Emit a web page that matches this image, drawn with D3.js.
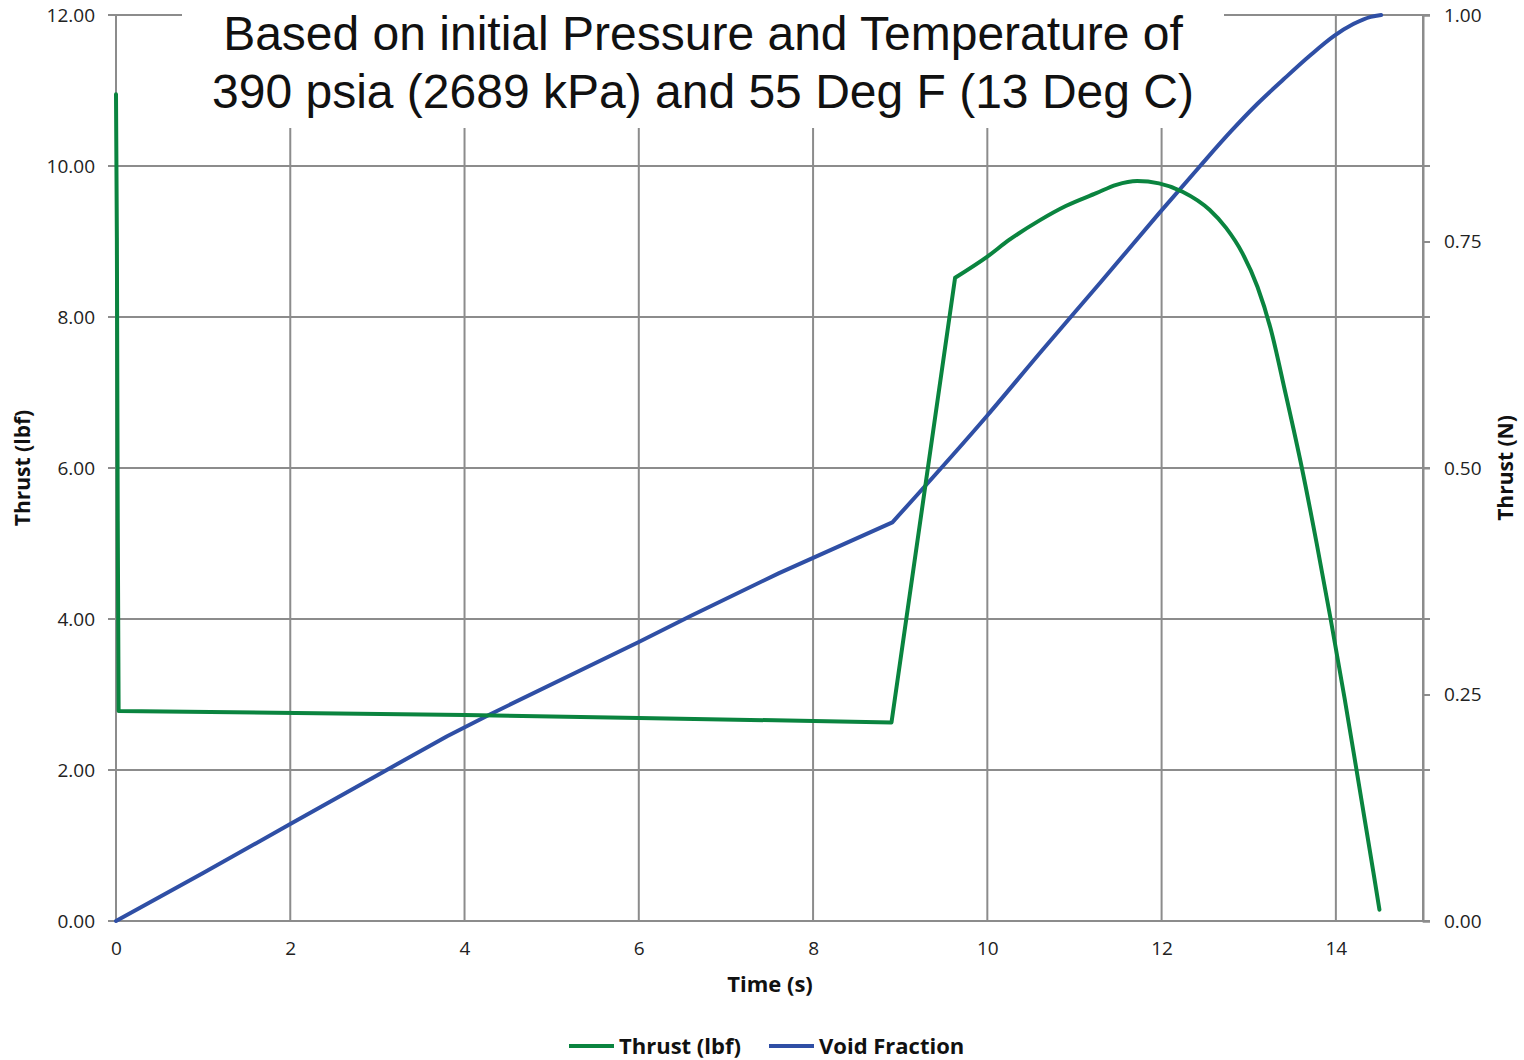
<!DOCTYPE html>
<html>
<head>
<meta charset="utf-8">
<script src="https://cdn.jsdelivr.net/npm/d3@7"></script>
<style>
  body { margin: 0; background: #fff; }
  .tick text { font-family: "Open Sans", sans-serif; font-size: 19px; fill: #222; }
  .axis-title { font-family: "Open Sans", sans-serif; font-size: 21px; font-weight: bold; fill: #111; }
</style>
</head>
<body>
<svg id="chart" width="1524" height="1060"></svg>
<script>
// thrust (lbf) vs time (s)
const thrustTime = [0, 0.01, 0.02, 0.03, 4, 6, 8.9, 9.63, 10, 10.25, 10.6, 10.9, 11.25, 11.48, 11.72, 11.97, 12.24, 12.55, 12.74, 12.93, 13.1, 13.25, 13.42, 13.61, 13.78, 13.94, 14.1, 14.23, 14.33, 14.43, 14.5];
const thrustValue = [10.95, 9.05, 5.3, 2.78, 2.73, 2.69, 2.63, 8.52, 8.8, 9.02, 9.28, 9.47, 9.64, 9.75, 9.8, 9.77, 9.66, 9.42, 9.18, 8.84, 8.4, 7.85, 7.0, 6.0, 5.0, 4.0, 2.95, 2.05, 1.35, 0.65, 0.15];

// void fraction vs time (s)
const voidTime = [0, 1, 2, 3, 3.8, 4.29, 6, 6.6, 7.61, 8.91, 10, 10.63, 11.3, 11.97, 12.43, 12.8, 13.1, 13.4, 13.7, 13.98, 14.2, 14.4, 14.52];
const voidValue = [0, 0.053, 0.107, 0.161, 0.204, 0.228, 0.308, 0.337, 0.384, 0.44, 0.558, 0.63, 0.705, 0.781, 0.832, 0.872, 0.902, 0.929, 0.955, 0.977, 0.99, 0.998, 1.0];

const xTicks = [0, 2, 4, 6, 8, 10, 12, 14];
const leftTicks = [0, 2, 4, 6, 8, 10, 12];
const rightTicks = [0, 0.25, 0.5, 0.75, 1];

const titleLines = ["Based on initial Pressure and Temperature of", "390 psia (2689 kPa) and 55 Deg F (13 Deg C)"];
const seriesNames = ["Thrust (lbf)", "Void Fraction"];
const colors = ["#0a843f", "#2f4fa5"];
const gridColor = "#8c8c8c";

const svg = d3.select("#chart");
const plotLeft = 116, plotRight = 1423, plotTop = 15, plotBottom = 921;

const x = d3.scaleLinear().domain([0, 15]).range([plotLeft, plotRight]);
const yL = d3.scaleLinear().domain([0, 12]).range([plotBottom, plotTop]);
const yR = d3.scaleLinear().domain([0, 1]).range([plotBottom, plotTop]);

// gridlines
const grid = svg.append("g");
grid.selectAll(".hg").data(leftTicks).enter().append("line")
    .attr("x1", plotLeft - 8).attr("x2", plotRight + 7)
    .attr("y1", d => yL(d)).attr("y2", d => yL(d))
    .attr("stroke", gridColor).attr("stroke-width", 2);
grid.selectAll(".vg").data(xTicks.concat([15])).enter().append("line")
    .attr("x1", d => x(d)).attr("x2", d => x(d))
    .attr("y1", plotTop).attr("y2", plotBottom)
    .attr("stroke", gridColor).attr("stroke-width", 2);

// x axis labels
svg.append("g")
    .attr("transform", `translate(0, ${plotBottom})`)
    .call(d3.axisBottom(x).tickValues(xTicks).tickSize(0).tickPadding(21).tickFormat(d3.format("d")))
    .call(g => g.select(".domain").remove());

// left axis labels
svg.append("g")
    .attr("transform", `translate(${plotLeft}, 0)`)
    .call(d3.axisLeft(yL).tickValues(leftTicks).tickSize(0).tickPadding(21).tickFormat(d3.format(".2f")))
    .call(g => g.select(".domain").remove());

// right axis
svg.append("g")
    .attr("transform", `translate(${plotRight}, 0)`)
    .call(d3.axisRight(yR).tickValues(rightTicks).tickSize(7).tickPadding(14).tickFormat(d3.format(".2f")))
    .call(g => g.select(".domain").attr("stroke", gridColor).attr("stroke-width", 2))
    .call(g => g.selectAll(".tick line").attr("stroke", gridColor).attr("stroke-width", 2));

// series: straight part drawn linear, the curved tail smoothed
const straight = d3.line().x(d => x(d[0])).y(d => d[1]);
const smooth = d3.line().x(d => x(d[0])).y(d => d[1]).curve(d3.curveMonotoneX);

function drawSeries(times, values, yScale, split, color) {
    const pts = times.map((t, i) => [t, yScale(values[i])]);
    svg.append("path")
        .attr("fill", "none").attr("stroke", color).attr("stroke-width", 4)
        .attr("stroke-linejoin", "round").attr("stroke-linecap", "round")
        .attr("d", straight(pts.slice(0, split + 1)) + smooth(pts.slice(split)).replace(/^M/, "L"));
}

drawSeries(voidTime, voidValue, yR, 9, colors[1]);
drawSeries(thrustTime, thrustValue, yL, 7, colors[0]);

// title with white box
svg.append("rect")
    .attr("x", 182).attr("y", 0).attr("width", 1042).attr("height", 128)
    .attr("fill", "#fff");
svg.append("g").selectAll("text").data(titleLines).enter().append("text")
    .attr("x", 703)
    .attr("y", (d, i) => 50 + i * 58)
    .attr("text-anchor", "middle")
    .attr("font-family", "Liberation Sans, Arial, sans-serif")
    .attr("font-size", "48px")
    .attr("fill", "#111")
    .text(d => d);

// axis titles
svg.append("text").attr("class", "axis-title")
    .attr("transform", `translate(30, 468) rotate(-90)`)
    .attr("text-anchor", "middle")
    .text("Thrust (lbf)");
svg.append("text").attr("class", "axis-title")
    .attr("transform", `translate(1513, 468) rotate(-90)`)
    .attr("text-anchor", "middle")
    .text("Thrust (N)");
svg.append("text").attr("class", "axis-title")
    .attr("x", 770).attr("y", 992)
    .attr("text-anchor", "middle")
    .style("font-size", "22px")
    .text("Time (s)");

// legend
const legend = svg.append("g").selectAll("g").data(seriesNames).enter().append("g")
    .attr("transform", (d, i) => `translate(${[569, 769][i]}, 1046)`);
legend.append("line")
    .attr("x1", 0).attr("x2", 45).attr("y1", 0).attr("y2", 0)
    .attr("stroke", (d, i) => colors[i]).attr("stroke-width", 4);
legend.append("text").attr("class", "axis-title")
    .attr("x", 50).attr("y", 8)
    .style("font-size", "22px")
    .text(d => d);
</script>
</body>
</html>
